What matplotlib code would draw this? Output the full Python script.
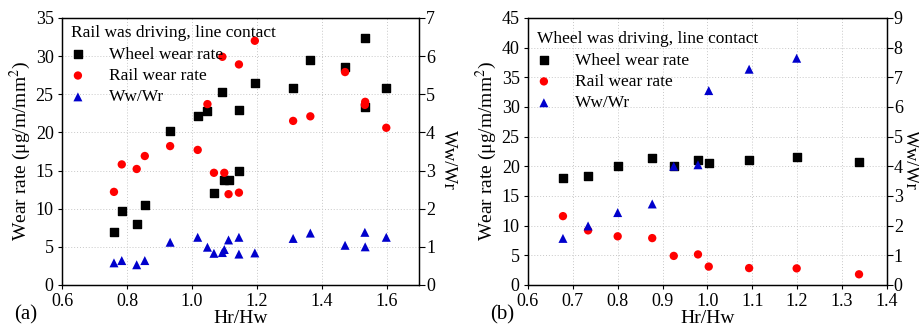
import numpy as np
import matplotlib
matplotlib.use('Agg')
import matplotlib.pyplot as plt

plt.rcParams['font.family'] = ['Liberation Serif', 'DejaVu Serif']
plt.rcParams['mathtext.fontset'] = 'stix'

# (a) rail was driving
hr_a = [0.760, 0.784, 0.830, 0.855, 0.933, 1.018, 1.048, 1.068, 1.094, 1.100,
        1.113, 1.145, 1.145, 1.194, 1.312, 1.365, 1.472, 1.533, 1.534, 1.599]
wheel_a = [6.9, 9.7, 8.0, 10.5, 20.2, 22.2, 22.8, 12.0, 25.3, 13.8,
           13.8, 22.9, 15.0, 26.5, 25.8, 29.5, 28.6, 32.3, 23.3, 25.8]
rail_a = [12.2, 15.8, 15.2, 16.9, 18.2, 17.7, 23.7, 14.7, 29.9, 14.7,
          11.9, 28.9, 12.1, 32.0, 21.5, 22.1, 27.9, 23.6, 24.0, 20.6]
ratio_a = [0.58, 0.64, 0.53, 0.64, 1.12, 1.25, 0.99, 0.83, 0.85, 0.93,
           1.18, 1.25, 0.81, 0.84, 1.22, 1.36, 1.04, 1.38, 1.00, 1.25]

# (b) wheel was driving
hr_b = [0.678, 0.734, 0.800, 0.877, 0.925, 0.979, 1.003, 1.093, 1.199, 1.338]
wheel_b = [18.0, 18.35, 20.1, 21.4, 20.0, 21.0, 20.5, 21.0, 21.5, 20.65]
rail_b = [11.6, 9.2, 8.2, 7.9, 4.9, 5.15, 3.1, 2.85, 2.8, 1.8]
ratio_b = [1.57, 1.99, 2.44, 2.73, 4.0, 4.05, 6.55, 7.27, 7.64, np.nan]


def panel(ax, hr, wheel, rail, ratio, xlim, xticks, ymax, rmax, title, anchor, rlab_x):
    ax.scatter(hr, wheel, marker='s', s=30, c='black', zorder=3, label='Wheel wear rate')
    ax.scatter(hr, rail, marker='o', s=36, c='red', edgecolors='none', zorder=3, label='Rail wear rate')
    ax2 = ax.twinx()
    tri = ax2.scatter(hr, ratio, marker='^', s=42, c='#0000cc', edgecolors='none', zorder=4, label='Ww/Wr')
    ax.set_xlim(*xlim)
    ax.set_xticks(xticks)
    ax.set_xticklabels(['%.1f' % t for t in xticks])
    ax.set_ylim(0, ymax)
    ax.set_yticks(np.arange(0, ymax + 1, 5))
    ax2.set_ylim(0, rmax)
    ax2.set_yticks(np.arange(0, rmax + 1, 1))
    ax.grid(True, ls=(0, (1, 2)), color='#c8c8c8', lw=0.7)
    ax.set_axisbelow(True)
    ax.set_xlabel('Hr/Hw', fontsize=14, labelpad=0)
    ax.set_ylabel('Wear rate (\u03bcg/m/mm$^2$)', fontsize=14, labelpad=2)
    ax2.set_ylabel('Ww/Wr', fontsize=13.5, rotation=270, va='bottom')
    # right-hand label sits just outside the tick labels
    ax2.yaxis.set_label_coords(rlab_x, 0.47)
    ax.tick_params(labelsize=13, length=3, width=0.8, pad=3)
    ax2.tick_params(labelsize=13, length=4, width=0.8, pad=1)
    for a in (ax, ax2):
        for sp in a.spines.values():
            sp.set_linewidth(0.9)
    h1, l1 = ax.get_legend_handles_labels()
    ax2.legend(h1 + [tri], l1 + ['Ww/Wr'], loc='upper left', frameon=False,
               bbox_to_anchor=anchor,
               title=title, title_fontsize=12.5, fontsize=12.5,
               alignment='left', handletextpad=1.4, labelspacing=0.3,
               borderaxespad=0.0, handlelength=0.8, borderpad=0.0)
    return ax2


fig = plt.figure(figsize=(9.19, 3.31), dpi=100)
axa = fig.add_axes([0.0675, 0.139, 0.3885, 0.807])
axb = fig.add_axes([0.5745, 0.139, 0.3905, 0.807])

panel(axa, hr_a, wheel_a, rail_a, ratio_a, (0.6, 1.7), [0.6, 0.8, 1.0, 1.2, 1.4, 1.6],
      35, 7, 'Rail was driving, line contact', (0.025, 0.972), 1.058)
panel(axb, hr_b, wheel_b, rail_b, ratio_b, (0.6, 1.4), np.round(np.arange(0.6, 1.41, 0.1), 1),
      45, 9, 'Wheel was driving, line contact', (0.025, 0.95), 1.043)

fig.text(0.015, 0.035, '(a)', fontsize=15)
fig.text(0.533, 0.035, '(b)', fontsize=15)

fig.savefig('out.png', dpi=100)
